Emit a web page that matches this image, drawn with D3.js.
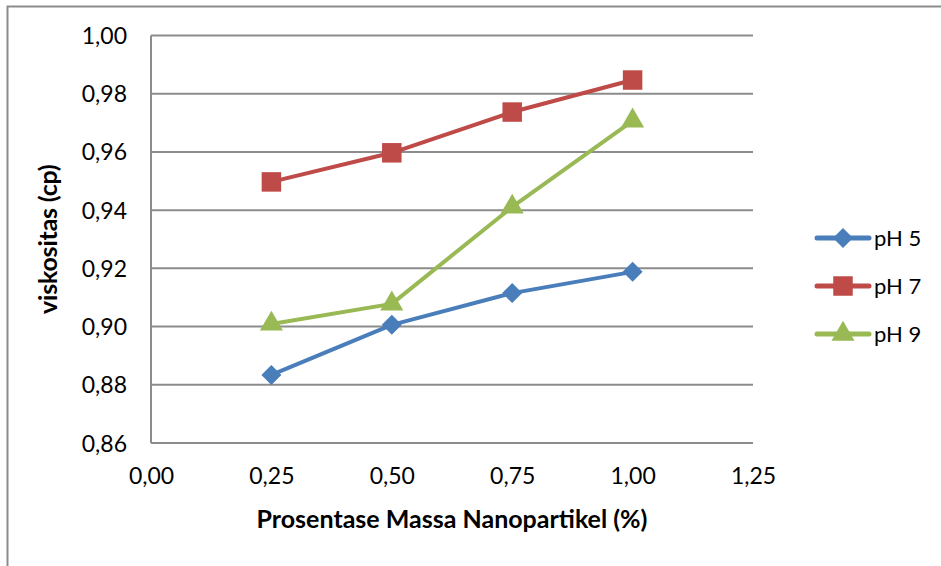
<!DOCTYPE html>
<html>
<head>
<meta charset="utf-8">
<script src="https://cdn.jsdelivr.net/npm/d3@7"></script>
<style>
  body { margin: 0; background: #fff; }
  text { font-family: Lato, "Open Sans", sans-serif; fill: #000; }
</style>
</head>
<body>
<script>
// data
var masses = [0.25, 0.50, 0.75, 1.00];
var ph5 = [0.8834, 0.9006, 0.9115, 0.9188];
var ph7 = [0.9497, 0.9597, 0.9737, 0.9847];
var ph9 = [0.9009, 0.9078, 0.9411, 0.9707];
var seriesNames = ["pH 5", "pH 7", "pH 9"];
var xTicks = [0, 0.25, 0.5, 0.75, 1.0, 1.25];
var yTicks = [0.86, 0.88, 0.90, 0.92, 0.94, 0.96, 0.98, 1.00];

var W = 941, H = 566;
var plot = {left: 151, right: 753, top: 35.5, bottom: 443};

var svg = d3.select("body").append("svg")
    .attr("width", W)
    .attr("height", H);

// outer frame
svg.append("path")
    .attr("d", `M7.5,${H} V6.5 H${W}`)
    .attr("fill", "none")
    .attr("stroke", "#8c8c8c")
    .attr("stroke-width", 2);

var x = d3.scaleLinear().domain([0, 1.25]).range([plot.left, plot.right]);
var y = d3.scaleLinear().domain([0.86, 1.00]).range([plot.bottom, plot.top]);

var fmt = d => d3.format(".2f")(d).replace(".", ",");

// gridlines
svg.append("g").selectAll("line")
    .data(yTicks)
    .enter().append("line")
    .attr("x1", plot.left).attr("x2", plot.right)
    .attr("y1", d => y(d)).attr("y2", d => y(d))
    .attr("stroke", "#8c8c8c")
    .attr("stroke-width", 2);

svg.append("line")
    .attr("x1", plot.left).attr("x2", plot.left)
    .attr("y1", plot.top).attr("y2", plot.bottom)
    .attr("stroke", "#8c8c8c")
    .attr("stroke-width", 2);

// y tick labels
var yAxis = d3.axisLeft(y).tickValues(yTicks).tickFormat(fmt).tickSize(0).tickPadding(24);
var gy = svg.append("g").attr("transform", `translate(${plot.left},0)`).call(yAxis);
gy.select(".domain").remove();
gy.selectAll("text").style("font-size", "23px").attr("dy", "0.35em");

// x tick labels
var xAxis = d3.axisBottom(x).tickValues(xTicks).tickFormat(fmt).tickSize(0).tickPadding(24);
var gx = svg.append("g").attr("transform", `translate(0,${plot.bottom})`).call(xAxis);
gx.select(".domain").remove();
gx.selectAll("text").style("font-size", "23px").attr("dy", "0.75em");

// axis titles
svg.append("text")
    .attr("x", (plot.left + plot.right) / 2)
    .attr("y", 528)
    .attr("text-anchor", "middle")
    .style("font-size", "25px")
    .style("font-weight", "bold")
    .style("letter-spacing", "0px")
    .text("Prosentase Massa Nanopartikel (%)");

svg.append("text")
    .attr("transform", `translate(57,${(plot.top + plot.bottom) / 2}) rotate(-90)`)
    .attr("text-anchor", "middle")
    .style("font-size", "25px")
    .style("font-weight", "bold")
    .style("letter-spacing", "-0.2px")
    .text("viskositas (cp)");

var series = [
  {name: seriesNames[0], values: ph5, color: "#4a7ebb", shape: d3.symbolSquare, size: 200, rot: 45},
  {name: seriesNames[1], values: ph7, color: "#be4b48", shape: d3.symbolSquare, size: 380, rot: 0},
  {name: seriesNames[2], values: ph9, color: "#98b954", shape: d3.symbolTriangle, size: 230, rot: 0}
];

var line = d3.line()
    .x((d, i) => x(masses[i]))
    .y(d => y(d));

var sg = svg.selectAll(".series")
    .data(series)
    .enter().append("g")
    .attr("class", "series");

sg.append("path")
    .attr("d", d => line(d.values))
    .attr("fill", "none")
    .attr("stroke", d => d.color)
    .attr("stroke-width", 4)
    .attr("stroke-linejoin", "round");

sg.each(function(s) {
  d3.select(this).selectAll("path.pt")
      .data(s.values)
      .enter().append("path")
      .attr("class", "pt")
      .attr("transform", (d, i) => `translate(${x(masses[i])},${y(d)}) rotate(${s.rot})`)
      .attr("d", d3.symbol().type(s.shape).size(s.size))
      .attr("fill", s.color);
});

// legend
var legY = [238, 286, 334];
var lg = svg.selectAll(".leg")
    .data(series)
    .enter().append("g")
    .attr("class", "leg")
    .attr("transform", (d, i) => `translate(0,${legY[i]})`);

lg.append("line")
    .attr("x1", 817).attr("x2", 869)
    .attr("stroke", d => d.color)
    .attr("stroke-width", 5)
    .attr("stroke-linecap", "round");

lg.append("path")
    .attr("transform", d => `translate(843,0) rotate(${d.rot})`)
    .attr("d", d => d3.symbol().type(d.shape).size(d.size)())
    .attr("fill", d => d.color);

lg.append("text")
    .attr("x", 874)
    .attr("dy", "0.35em")
    .style("font-size", "22px")
    .text(d => d.name);
</script>
</body>
</html>
